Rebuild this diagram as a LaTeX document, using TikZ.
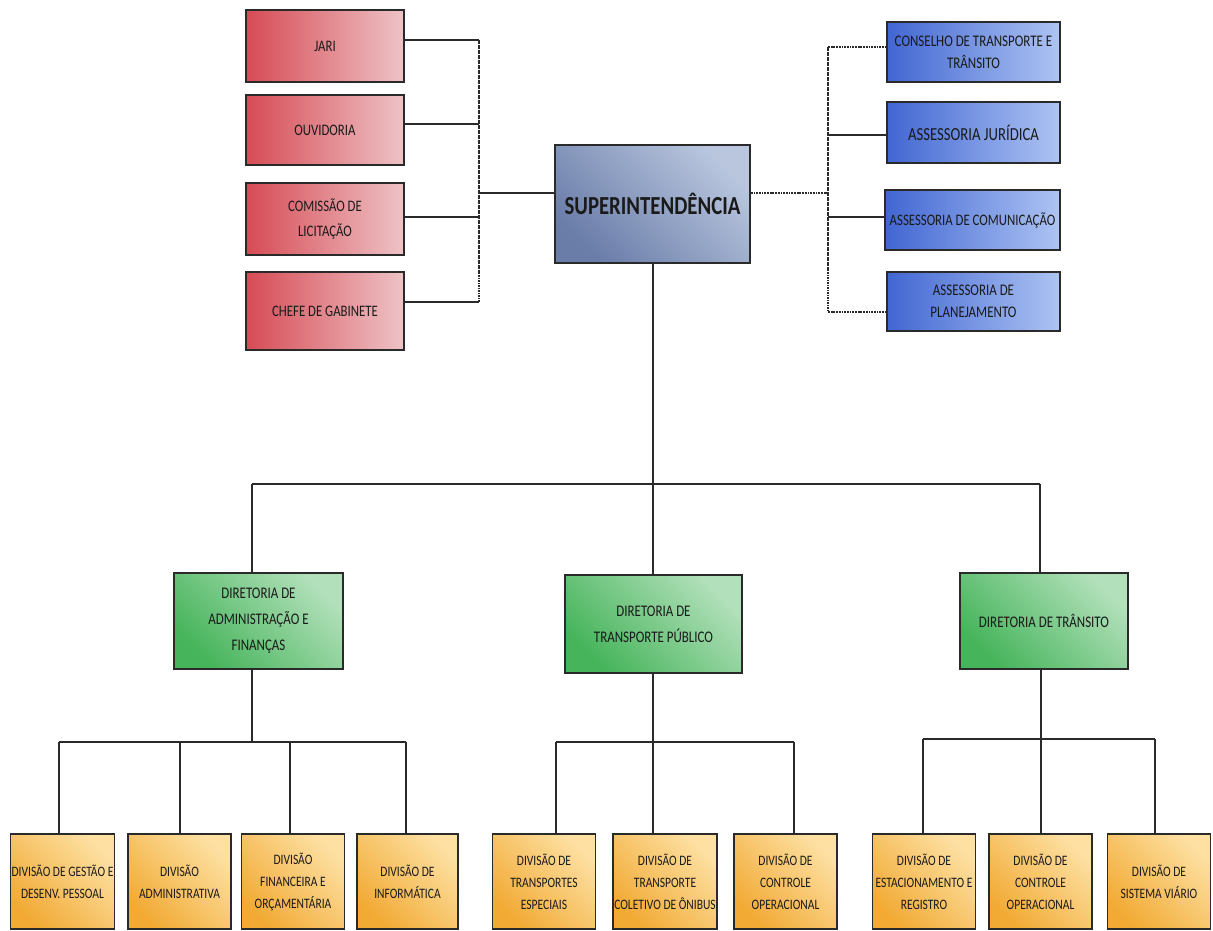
\documentclass[tikz,border=0pt]{standalone}
\usepackage{fontspec}
\setmainfont{Carlito}[FakeStretch=0.8]
\definecolor{boxline}{HTML}{2A2A2A}
\definecolor{txt}{HTML}{1A1A1A}
\definecolor{redL}{HTML}{D64B55}
\definecolor{redR}{HTML}{EEC3C6}
\definecolor{bluL}{HTML}{4166D2}
\definecolor{bluR}{HTML}{AEC4F3}
\definecolor{supL}{HTML}{6A7DA9}
\definecolor{supR}{HTML}{B9C6DE}
\definecolor{grnL}{HTML}{45B45A}
\definecolor{grnR}{HTML}{B2E0BA}
\definecolor{ylwL}{HTML}{F2AA35}
\definecolor{ylwR}{HTML}{FDE0A2}
\begin{document}
\begin{tikzpicture}[x=1pt,y=-1pt,
  box/.style={draw=boxline, line width=1.6pt, align=center, text=txt, inner sep=1pt},
  redbox/.style={box, left color=redL, right color=redR, minimum width=158pt,
    font=\fontsize{16}{25}\selectfont},
  bluebox/.style={box, left color=bluL, right color=bluR, minimum width=173pt,
    minimum height=60pt, font=\fontsize{16.2}{22}\selectfont},
  supbox/.style={box, left color=supL, right color=supR, shading angle=135,
    font=\fontsize{26}{28}\selectfont\bfseries},
  grnbox/.style={box, left color=grnL, right color=grnR, shading angle=135,
    font=\fontsize{16.2}{26}\selectfont},
  ylwbox/.style={box, left color=ylwL, right color=ylwR, shading angle=135,
    minimum width=103pt, minimum height=95pt, font=\fontsize{14.4}{22}\selectfont},
  conn/.style={draw=boxline, line width=1.4pt},
  thick conn/.style={draw=boxline, line width=2.6pt},
  dash conn/.style={draw=boxline, line width=1.2pt, dash pattern=on 1.6pt off 0.9pt},
  dash thick/.style={draw=boxline, line width=2pt, dash pattern=on 1.8pt off 0.9pt}
]
\useasboundingbox (0,0) rectangle (1213,931);

% red column
\node[redbox, minimum height=72pt] (jari) at (325,46) {JARI};
\node[redbox, minimum height=70pt] (ouv) at (325,130) {OUVIDORIA};
\node[redbox, minimum height=72pt] (com) at (325,219) {COMISSÃO DE\\LICITAÇÃO};
\node[redbox, minimum height=78pt] (chefe) at (325,311) {CHEFE DE GABINETE};

% blue column
\node[bluebox] (cons) at (973.5,52) {CONSELHO DE TRANSPORTE E\\TRÂNSITO};
\node[bluebox, minimum height=61pt, font=\fontsize{18.4}{22}\selectfont] (jur) at (973.5,132.5) {ASSESSORIA JURÍDICA};
\node[bluebox, minimum width=175pt, font=\fontsize{16}{22}\selectfont] (comu) at (972.5,220) {ASSESSORIA DE COMUNICAÇÃO};
\node[bluebox, minimum height=59pt] (plan) at (973.5,301.5) {ASSESSORIA DE\\PLANEJAMENTO};

% superintendencia
\node[supbox, minimum width=195pt, minimum height=118pt] (sup) at (652.5,204) {SUPERINTENDÊNCIA};

% diretorias
\node[grnbox, minimum width=169pt, minimum height=96pt] (dadm) at (258.5,621) {DIRETORIA DE\\ADMINISTRAÇÃO E\\FINANÇAS};
\node[grnbox, minimum width=177pt, minimum height=98pt] (dtp) at (653.5,624) {DIRETORIA DE\\TRANSPORTE PÚBLICO};
\node[grnbox, minimum width=168pt, minimum height=96pt] (dtr) at (1044,621) {DIRETORIA DE TRÂNSITO};

% divisoes
\node[ylwbox] (y1) at (62.5,881.5) {DIVISÃO DE GESTÃO E\\DESENV. PESSOAL};
\node[ylwbox] (y2) at (179.5,881.5) {DIVISÃO\\ADMINISTRATIVA};
\node[ylwbox] (y3) at (293,881.5) {DIVISÃO\\FINANCEIRA E\\ORÇAMENTÁRIA};
\node[ylwbox, minimum width=101pt] (y4) at (407.5,881.5) {DIVISÃO DE\\INFORMÁTICA};
\node[ylwbox] (y5) at (544,881.5) {DIVISÃO DE\\TRANSPORTES\\ESPECIAIS};
\node[ylwbox] (y6) at (665,881.5) {DIVISÃO DE\\TRANSPORTE\\COLETIVO DE ÔNIBUS};
\node[ylwbox] (y7) at (785.5,881.5) {DIVISÃO DE\\CONTROLE\\OPERACIONAL};
\node[ylwbox] (y8) at (924,881.5) {DIVISÃO DE\\ESTACIONAMENTO E\\REGISTRO};
\node[ylwbox] (y9) at (1040.5,881.5) {DIVISÃO DE\\CONTROLE\\OPERACIONAL};
\node[ylwbox] (y10) at (1159,881.5) {DIVISÃO DE\\SISTEMA VIÁRIO};

% left bus
\coordinate (lj) at (479,40);
\coordinate (lo) at (479,124);
\coordinate (lc) at (479,217);
\coordinate (lg) at (479,302);
\coordinate (lm) at (479,193);
\draw[dash conn] (lj) -- (lg);
\draw[conn] (lj -| jari.east) -- (lj);
\draw[thick conn] (lo -| ouv.east) -- (lo);
\draw[thick conn] (lc -| com.east) -- (lc);
\draw[thick conn] (lg -| chefe.east) -- (lg);
\draw[conn] (lm) -- (lm -| sup.west);

% right bus
\coordinate (rc) at (828,47);
\coordinate (rj) at (828,135);
\coordinate (rm) at (828,193);
\coordinate (rk) at (828,217);
\coordinate (rp) at (828,312);
\draw[dash conn] (rc) -- (rp);
\draw[dash thick] (rc) -- (rc -| cons.west);
\draw[thick conn] (rj) -- (rj -| jur.west);
\draw[thick conn] (rk) -- (rk -| comu.west);
\draw[dash thick] (rp) -- (rp -| plan.west);
\draw[dash thick] (sup.east |- rm) -- (rm);

% main tree
\coordinate (tb) at (653,484);
\coordinate (ta) at (252,484);
\coordinate (tt) at (1040,484);
\draw[conn] (sup.south -| tb) -- (tb);
\draw[conn] (ta) -- (tt);
\draw[conn] (ta) -- (ta |- dadm.north);
\draw[conn] (tb) -- (tb |- dtp.north);
\draw[conn] (tt) -- (tt |- dtr.north);

% admin subtree
\coordinate (ab) at (252,742);
\coordinate (a1) at (59,742);
\coordinate (a2) at (180,742);
\coordinate (a3) at (290,742);
\coordinate (a4) at (406,742);
\draw[conn] (dadm.south -| ab) -- (ab);
\draw[conn] (a1) -- (a4);
\draw[conn] (a1) -- (a1 |- y1.north);
\draw[conn] (a2) -- (a2 |- y2.north);
\draw[conn] (a3) -- (a3 |- y3.north);
\draw[conn] (a4) -- (a4 |- y4.north);

% transporte subtree
\coordinate (pb) at (653,742);
\coordinate (p1) at (556,742);
\coordinate (p3) at (794,742);
\draw[conn] (dtp.south -| pb) -- (pb);
\draw[conn] (p1) -- (p3);
\draw[conn] (p1) -- (p1 |- y5.north);
\draw[conn] (pb) -- (pb |- y6.north);
\draw[conn] (p3) -- (p3 |- y7.north);

% transito subtree
\coordinate (sb) at (1041,739);
\coordinate (s1) at (923,739);
\coordinate (s3) at (1155,739);
\draw[conn] (dtr.south -| sb) -- (sb);
\draw[conn] (s1) -- (s3);
\draw[conn] (s1) -- (s1 |- y8.north);
\draw[conn] (sb) -- (sb |- y9.north);
\draw[conn] (s3) -- (s3 |- y10.north);
\end{tikzpicture}
\end{document}
